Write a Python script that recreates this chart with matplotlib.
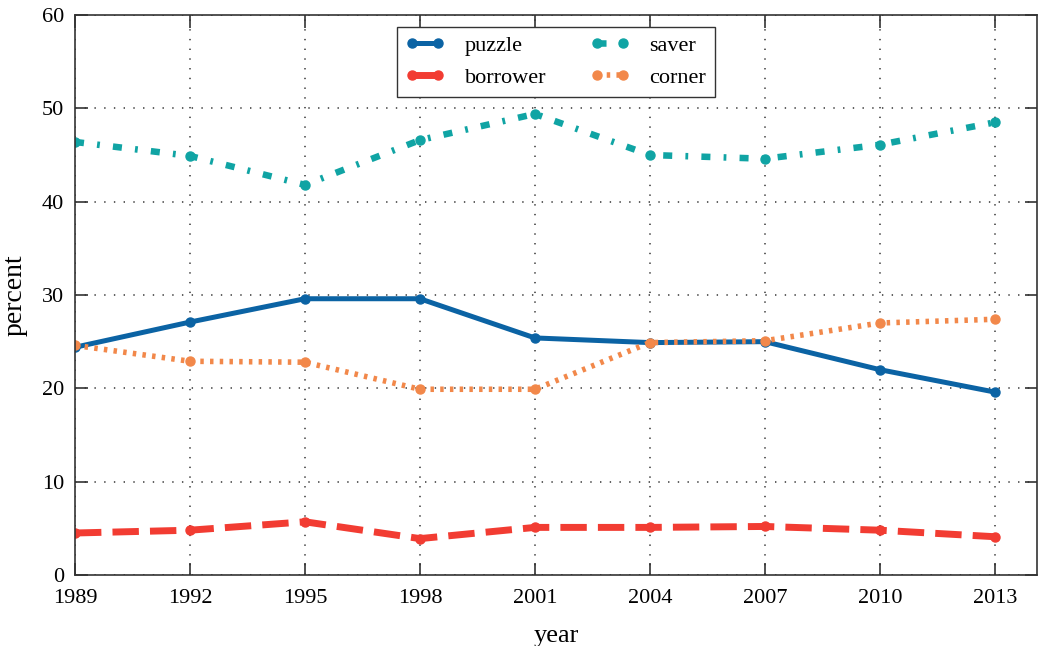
import matplotlib
matplotlib.use("Agg")
import matplotlib.pyplot as plt

plt.rcParams.update({
    "font.family": "Liberation Serif",
    "font.size": 16,
    "lines.scale_dashes": False,
    "xtick.direction": "in",
    "ytick.direction": "in",
    "xtick.top": True,
    "ytick.right": True,
    "xtick.major.size": 9,
    "ytick.major.size": 9,
})

years = [1989, 1992, 1995, 1998, 2001, 2004, 2007, 2010, 2013]
puzzle = [24.4, 27.1, 29.6, 29.6, 25.4, 24.9, 25.0, 22.0, 19.6]
borrower = [4.5, 4.8, 5.7, 3.9, 5.1, 5.1, 5.2, 4.8, 4.1]
saver = [46.4, 44.9, 41.8, 46.6, 49.4, 45.0, 44.6, 46.1, 48.5]
corner = [24.6, 22.9, 22.8, 19.9, 19.9, 24.9, 25.1, 27.0, 27.4]

fig = plt.figure(figsize=(10.46, 6.46), dpi=100)
ax = fig.add_axes([75 / 1046, 71 / 646, 962 / 1046, 560 / 646])

ax.plot(years, puzzle, "-", marker="o", color="#0b63a4", lw=3.6,
        ms=6.5, label="puzzle")
ax.plot(years, borrower, color="#f23c32", lw=5, marker="o", ms=6.5,
        dashes=(19, 8), label="borrower")
ax.plot(years, saver, color="#10a4a4", lw=4.7, marker="o", ms=6.5,
        dashes=(6.5, 9.5, 2, 9.5), label="saver")
ax.plot(years, corner, color="#f2884a", lw=4, marker="o", ms=6.5,
        dashes=(2.5, 4.5), label="corner")

ax.set_xlim(1989, 2014.1)
ax.set_ylim(0, 60)
ax.set_xticks(years)
ax.set_yticks(range(0, 61, 10))
ax.grid(True, color="#444444", linestyle=(0, (1, 6)), linewidth=1.2)
for s in ax.spines.values():
    s.set_color("#333333")
    s.set_linewidth(1.2)
ax.tick_params(colors="#333333", labelcolor="black", width=1.2)
ax.tick_params(axis="x", pad=10)
ax.tick_params(axis="y", pad=8)

ax.set_xlabel("year", fontsize=19, labelpad=12)
ax.set_ylabel("percent", fontsize=20, labelpad=10)

ax.legend(loc="upper center", ncol=2, fontsize=16, frameon=True,
          fancybox=False, edgecolor="#333333", framealpha=1,
          numpoints=2, handlelength=1.75, handletextpad=0.9,
          columnspacing=2.0, borderaxespad=0,
          bbox_to_anchor=(0.5, 0.979))

fig.savefig("out.png", dpi=100)
